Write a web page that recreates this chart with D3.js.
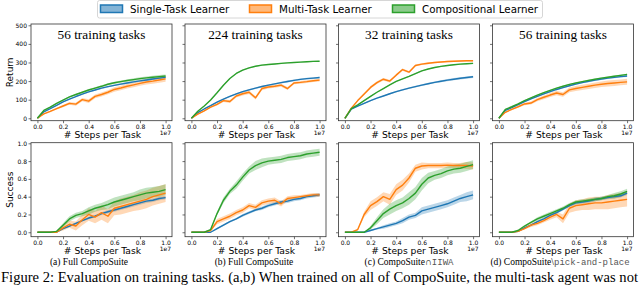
<!DOCTYPE html>
<html lang="en">
<head>
<meta charset="UTF-8">
<title>CompoSuite training tasks</title>
<script src="https://d3js.org/d3.v7.min.js"></script>
<style>
  body { margin: 0; background: #fff; }
  svg text { fill: #000; }
</style>
</head>
<body>
<script>
    const width = 640
    const height = 285

    // ---- data ----
    const steps = [0, 0.05, 0.1, 0.15, 0.2, 0.25, 0.3, 0.35, 0.4, 0.45, 0.5, 0.55, 0.6, 0.65, 0.7, 0.75, 0.8, 0.85, 0.9, 0.95, 1.0]
    const xTicks = [0, 0.2, 0.4, 0.6, 0.8, 1.0]
    const returnTicks = [0, 100, 200, 300, 400, 500]
    const successTicks = [0, 0.2, 0.4, 0.6, 0.8, 1.0]
    const titles = ['56 training tasks', '224 training tasks', '32 training tasks', '56 training tasks']
    const captions = [['(a) Full CompoSuite', ''], ['(b) Full CompoSuite', ''], ['(c) CompoSuite\u2229', 'IIWA'], ['(d) CompoSuite\\', 'pick-and-place']]
    const learners = ['Single-Task Learner', 'Multi-Task Learner', 'Compositional Learner']
    const colors = ['#1f77b4', '#ff7f0e', '#2ca02c']

    // return, one list per panel
    const retSingle = [
        [0, 35, 52, 70, 88, 103, 117, 130, 142, 152, 162, 170, 177, 184, 190, 196, 201, 206, 211, 216, 220],
        [0, 30, 50, 68, 87, 103, 118, 131, 143, 153, 162, 171, 178, 185, 192, 198, 204, 209, 213, 216, 219],
        [0, 50, 65, 80, 95, 108, 120, 132, 143, 153, 162, 170, 178, 186, 193, 199, 205, 210, 215, 219, 223],
        [0, 42, 57, 73, 89, 104, 118, 131, 143, 155, 165, 175, 184, 192, 199, 205, 211, 216, 220, 224, 227]
    ]
    const retMulti = [
        [0, 24, 37, 52, 66, 80, 76, 100, 92, 118, 128, 140, 155, 163, 172, 180, 188, 195, 200, 206, 212],
        [0, 22, 40, 60, 75, 95, 90, 120, 132, 140, 110, 160, 168, 172, 178, 160, 190, 193, 197, 202, 205],
        [0, 54, 95, 130, 166, 192, 210, 200, 232, 262, 248, 284, 291, 296, 300, 303, 305, 307, 308, 309, 309],
        [0, 32, 48, 62, 77, 82, 100, 113, 125, 136, 128, 153, 160, 166, 172, 178, 183, 187, 190, 193, 196]
    ]
    const retComp = [
        [0, 42, 60, 80, 98, 115, 128, 140, 152, 162, 172, 183, 191, 197, 203, 208, 213, 217, 221, 224, 227],
        [0, 38, 66, 98, 137, 178, 214, 241, 259, 271, 280, 286, 289, 292, 295, 298, 300, 302, 304, 306, 307],
        [0, 52, 72, 95, 118, 140, 160, 180, 198, 212, 225, 240, 255, 265, 273, 279, 284, 288, 291, 293, 295],
        [0, 48, 62, 78, 95, 110, 125, 138, 150, 162, 172, 182, 190, 197, 204, 210, 216, 221, 226, 231, 236]
    ]
    // half width of the shaded bands
    const retSingleSd = [
        [0, 2, 2, 3, 3, 3, 3, 4, 4, 4, 4, 4, 4, 5, 5, 5, 5, 5, 5, 5, 5],
        [0, 2, 2, 3, 3, 3, 3, 4, 4, 4, 4, 4, 4, 4, 5, 5, 5, 5, 5, 5, 5],
        [0, 2, 2, 3, 3, 3, 3, 4, 4, 4, 4, 5, 5, 5, 5, 5, 6, 6, 6, 6, 6],
        [0, 2, 2, 3, 3, 3, 3, 4, 4, 4, 4, 4, 4, 4, 5, 5, 5, 5, 5, 5, 5]
    ]
    const retMultiSd = [
        [0, 3, 4, 5, 6, 7, 8, 9, 10, 10, 11, 11, 12, 12, 12, 13, 13, 14, 14, 15, 15],
        [0, 3, 4, 5, 6, 7, 8, 8, 9, 9, 9, 9, 8, 8, 8, 8, 7, 7, 7, 7, 7],
        [0, 3, 5, 6, 7, 7, 7, 7, 6, 6, 6, 5, 5, 5, 4, 4, 4, 4, 4, 4, 4],
        [0, 3, 5, 6, 7, 8, 9, 10, 11, 12, 12, 13, 13, 14, 14, 15, 15, 16, 16, 16, 16]
    ]
    const retCompSd = [
        [0, 2, 3, 3, 3, 4, 4, 4, 5, 5, 5, 5, 6, 6, 6, 7, 7, 8, 8, 9, 9],
        [0, 2, 3, 3, 3, 3, 3, 3, 3, 3, 3, 3, 3, 3, 3, 3, 3, 3, 3, 3, 3],
        [0, 2, 2, 3, 3, 3, 3, 3, 3, 3, 3, 3, 3, 3, 3, 3, 3, 3, 3, 3, 3],
        [0, 2, 2, 3, 3, 3, 3, 3, 3, 3, 3, 3, 3, 4, 4, 4, 4, 4, 4, 4, 4]
    ]

    // success rate, one list per panel
    const sucSingle = [
        [0, 0, 0, 0, 0.04, 0.07, 0.10, 0.13, 0.16, 0.18, 0.21, 0.23, 0.25, 0.27, 0.29, 0.31, 0.33, 0.35, 0.36, 0.38, 0.39],
        [0, 0, 0, 0, 0.04, 0.08, 0.12, 0.15, 0.19, 0.22, 0.25, 0.27, 0.30, 0.32, 0.34, 0.35, 0.37, 0.38, 0.40, 0.41, 0.42],
        [0, 0, 0, 0, 0.02, 0.04, 0.06, 0.08, 0.10, 0.13, 0.17, 0.19, 0.24, 0.26, 0.28, 0.30, 0.32, 0.35, 0.38, 0.40, 0.42],
        [0, 0, 0, 0.01, 0.05, 0.08, 0.12, 0.15, 0.19, 0.22, 0.26, 0.30, 0.33, 0.34, 0.35, 0.37, 0.38, 0.39, 0.40, 0.41, 0.44]
    ]
    const sucMulti = [
        [0, 0, 0, 0, 0.05, 0.09, 0.07, 0.14, 0.20, 0.17, 0.22, 0.18, 0.27, 0.29, 0.31, 0.33, 0.35, 0.37, 0.40, 0.42, 0.44],
        [0, 0, 0, 0.02, 0.12, 0.15, 0.18, 0.22, 0.25, 0.30, 0.28, 0.33, 0.35, 0.36, 0.32, 0.38, 0.39, 0.40, 0.41, 0.42, 0.42],
        [0, 0, 0.03, 0.20, 0.30, 0.345, 0.40, 0.37, 0.48, 0.53, 0.61, 0.72, 0.745, 0.75, 0.75, 0.75, 0.755, 0.75, 0.75, 0.75, 0.745],
        [0, 0, 0, 0.01, 0.04, 0.08, 0.10, 0.13, 0.17, 0.20, 0.15, 0.27, 0.30, 0.31, 0.32, 0.33, 0.33, 0.34, 0.35, 0.36, 0.37]
    ]
    const sucComp = [
        [0, 0, 0, 0.01, 0.08, 0.15, 0.19, 0.21, 0.24, 0.27, 0.29, 0.31, 0.34, 0.36, 0.38, 0.40, 0.42, 0.44, 0.45, 0.46, 0.48],
        [0, 0, 0, 0.03, 0.21, 0.36, 0.46, 0.53, 0.62, 0.70, 0.75, 0.78, 0.80, 0.81, 0.82, 0.84, 0.85, 0.86, 0.88, 0.89, 0.90],
        [0, 0, 0, 0, 0.05, 0.13, 0.21, 0.26, 0.30, 0.33, 0.38, 0.44, 0.54, 0.61, 0.64, 0.66, 0.69, 0.71, 0.72, 0.74, 0.76],
        [0, 0, 0, 0.02, 0.07, 0.11, 0.15, 0.18, 0.21, 0.24, 0.27, 0.31, 0.34, 0.35, 0.36, 0.37, 0.38, 0.40, 0.41, 0.43, 0.46]
    ]
    const sucSingleSd = [
        [0, 0, 0, 0, 0.01, 0.01, 0.01, 0.01, 0.015, 0.015, 0.015, 0.02, 0.02, 0.02, 0.02, 0.02, 0.02, 0.02, 0.02, 0.02, 0.02],
        [0, 0, 0, 0, 0.01, 0.01, 0.01, 0.01, 0.015, 0.015, 0.015, 0.02, 0.02, 0.02, 0.02, 0.02, 0.02, 0.02, 0.02, 0.02, 0.02],
        [0, 0, 0, 0, 0.01, 0.01, 0.02, 0.02, 0.02, 0.03, 0.03, 0.03, 0.04, 0.04, 0.04, 0.04, 0.04, 0.04, 0.04, 0.05, 0.05],
        [0, 0, 0, 0, 0.01, 0.01, 0.01, 0.01, 0.01, 0.015, 0.015, 0.015, 0.02, 0.02, 0.02, 0.02, 0.02, 0.02, 0.02, 0.02, 0.02]
    ]
    const sucMultiSd = [
        [0, 0, 0, 0, 0.03, 0.04, 0.05, 0.06, 0.07, 0.07, 0.08, 0.08, 0.08, 0.09, 0.09, 0.09, 0.10, 0.10, 0.10, 0.10, 0.10],
        [0, 0, 0, 0.01, 0.03, 0.03, 0.03, 0.03, 0.03, 0.03, 0.03, 0.03, 0.03, 0.03, 0.03, 0.025, 0.025, 0.02, 0.02, 0.02, 0.02],
        [0, 0, 0.01, 0.03, 0.05, 0.05, 0.05, 0.06, 0.06, 0.06, 0.05, 0.04, 0.04, 0.03, 0.03, 0.03, 0.03, 0.03, 0.03, 0.04, 0.04],
        [0, 0, 0, 0, 0.01, 0.02, 0.02, 0.02, 0.03, 0.03, 0.05, 0.05, 0.06, 0.06, 0.07, 0.07, 0.07, 0.08, 0.08, 0.08, 0.08]
    ]
    const sucCompSd = [
        [0, 0, 0, 0.01, 0.02, 0.03, 0.03, 0.03, 0.04, 0.04, 0.04, 0.05, 0.05, 0.05, 0.05, 0.05, 0.06, 0.06, 0.06, 0.06, 0.06],
        [0, 0, 0, 0.01, 0.02, 0.03, 0.03, 0.04, 0.04, 0.04, 0.05, 0.05, 0.04, 0.04, 0.04, 0.04, 0.04, 0.04, 0.04, 0.04, 0.04],
        [0, 0, 0, 0, 0.02, 0.04, 0.05, 0.06, 0.06, 0.06, 0.07, 0.07, 0.07, 0.06, 0.05, 0.05, 0.05, 0.05, 0.05, 0.05, 0.05],
        [0, 0, 0, 0.01, 0.01, 0.01, 0.02, 0.02, 0.02, 0.02, 0.02, 0.02, 0.02, 0.02, 0.02, 0.02, 0.02, 0.02, 0.03, 0.03, 0.03]
    ]

    // ---- layout ----
    const panelLeft = [31, 185, 338.5, 492.5]
    const panelW = 141
    const rows = [
        {top: 24, bottom: 120.7, domain: [-13, 507], ticks: returnTicks, fmt: d3.format('d'), label: 'Return',
            means: [retSingle, retMulti, retComp], sds: [retSingleSd, retMultiSd, retCompSd]},
        {top: 142.7, bottom: 236.7, domain: [-0.05, 1.007], ticks: successTicks, fmt: d3.format('.1f'), label: 'Success',
            means: [sucSingle, sucMulti, sucComp], sds: [sucSingleSd, sucMultiSd, sucCompSd]}
    ]
    const sans = "'DejaVu Sans', sans-serif"
    const serif = "'Liberation Serif', 'DejaVu Serif', serif"
    const mono = "'Liberation Mono', 'DejaVu Sans Mono', monospace"

    var svg = d3.select('body')
        .append('svg')
        .attr('width', width)
        .attr('height', height)

    rows.forEach(function (row, r) {
        var yScale = d3.scaleLinear().domain(row.domain).range([row.bottom, row.top])
        for (var p = 0; p < 4; p++) {
            var xScale = d3.scaleLinear().domain([-0.05, 1.05]).range([panelLeft[p], panelLeft[p] + panelW])
            var g = svg.append('g')

            for (var k = 0; k < 3; k++) {
                var mean = row.means[k][p]
                var sd = row.sds[k][p]
                var area = d3.area()
                    .x(function (d, i) { return xScale(steps[i]) })
                    .y0(function (d, i) { return yScale(d - sd[i]) })
                    .y1(function (d, i) { return yScale(d + sd[i]) })
                g.append('path')
                    .attr('d', area(mean))
                    .attr('fill', colors[k])
                    .attr('fill-opacity', 0.3)
            }
            for (var k = 0; k < 3; k++) {
                var line = d3.line()
                    .x(function (d, i) { return xScale(steps[i]) })
                    .y(function (d) { return yScale(d) })
                g.append('path')
                    .attr('d', line(row.means[k][p]))
                    .attr('fill', 'none')
                    .attr('stroke', colors[k])
                    .attr('stroke-width', 1.4)
                    .attr('stroke-linejoin', 'round')
            }

            // frame
            g.append('rect')
                .attr('x', panelLeft[p])
                .attr('y', row.top)
                .attr('width', panelW)
                .attr('height', row.bottom - row.top)
                .attr('fill', 'none')
                .attr('stroke', '#333')
                .attr('stroke-width', 0.8)

            var xAxis = d3.axisBottom(xScale).tickValues(xTicks).tickFormat(d3.format('.1f'))
                .tickSize(2.5).tickPadding(1.5)
            var xg = g.append('g')
                .attr('transform', 'translate(0,' + row.bottom + ')')
                .call(xAxis)
            var yAxis = d3.axisLeft(yScale).tickValues(row.ticks).tickFormat(p === 0 ? row.fmt : '')
                .tickSize(2.5).tickPadding(1.5)
            var yg = g.append('g')
                .attr('transform', 'translate(' + panelLeft[p] + ',0)')
                .call(yAxis)
            ;[xg, yg].forEach(function (a) {
                a.select('.domain').remove()
                a.selectAll('line').attr('stroke', '#333').attr('stroke-width', 0.7)
                a.selectAll('text').attr('font-family', sans).attr('font-size', 6).attr('fill', '#000')
            })

            // offset label and axis label
            g.append('text')
                .text('1e7')
                .attr('x', panelLeft[p] + panelW - 1)
                .attr('y', row.bottom + 14.5)
                .attr('text-anchor', 'end')
                .attr('font-family', sans)
                .attr('font-size', 6)
            g.append('text')
                .text('# Steps per Task')
                .attr('x', panelLeft[p] + panelW / 2 + 1)
                .attr('y', row.bottom + 17.6)
                .attr('text-anchor', 'middle')
                .attr('font-family', sans)
                .attr('font-size', 9.2)

            if (r === 0) {
                g.append('text')
                    .text(titles[p])
                    .attr('x', panelLeft[p] + panelW / 2)
                    .attr('y', 38.5)
                    .attr('text-anchor', 'middle')
                    .attr('font-family', serif)
                    .attr('font-size', 13.3)
            } else {
                var cap = g.append('text')
                    .attr('x', [89, 254, 409, 560][p])
                    .attr('y', 264.5)
                    .attr('text-anchor', 'middle')
                    .attr('font-family', serif)
                    .attr('font-size', 9.5)
                cap.append('tspan').text(captions[p][0])
                if (captions[p][1]) {
                    cap.append('tspan').text(captions[p][1])
                        .attr('font-family', mono)
                        .attr('font-size', 9)
                        .attr('fill', '#555')
                }
            }
        }
        svg.append('text')
            .text(row.label)
            .attr('transform', 'translate(13,' + ((row.top + row.bottom) / 2) + ') rotate(-90)')
            .attr('text-anchor', 'middle')
            .attr('font-family', sans)
            .attr('font-size', 9)
    })

    // legend
    var legend = svg.append('g')
    legend.append('rect')
        .attr('x', 97.5)
        .attr('y', 0.5)
        .attr('width', 445)
        .attr('height', 17.5)
        .attr('rx', 2)
        .attr('fill', '#fff')
        .attr('stroke', '#ccc')
        .attr('stroke-width', 0.8)
    const legendX = [100, 249, 392]
    learners.forEach(function (name, k) {
        legend.append('rect')
            .attr('x', legendX[k] + 0.5)
            .attr('y', 5)
            .attr('width', 22)
            .attr('height', 7.5)
            .attr('fill', colors[k])
            .attr('fill-opacity', 0.55)
            .attr('stroke', colors[k])
            .attr('stroke-width', 1.5)
        legend.append('text')
            .text(name)
            .attr('x', legendX[k] + 30)
            .attr('y', 12.5)
            .attr('font-family', sans)
            .attr('font-size', 10.3)
    })

    // figure caption, its lower part is cut by the bottom edge as in the source page
    svg.append('text')
        .text('Figure 2: Evaluation on training tasks. (a,b) When trained on all of CompoSuite, the multi-task agent was not')
        .attr('x', 1)
        .attr('y', 282)
        .attr('textLength', 637)
        .attr('lengthAdjust', 'spacingAndGlyphs')
        .attr('font-family', serif)
        .attr('font-size', 15)
</script>
</body>
</html>
